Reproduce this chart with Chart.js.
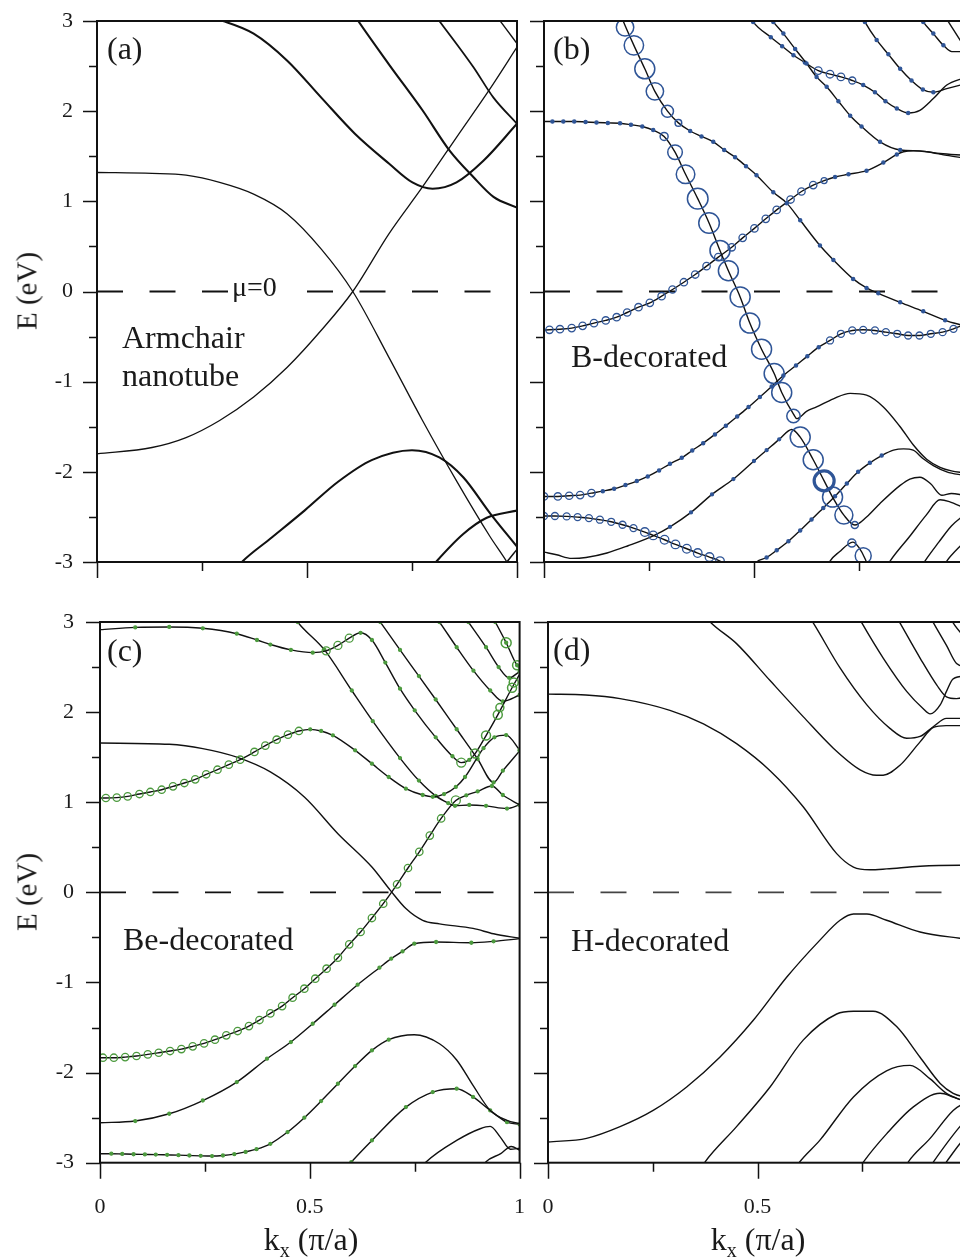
<!DOCTYPE html>
<html>
<head>
<meta charset="utf-8">
<script src="https://cdn.jsdelivr.net/npm/chart.js@4.4.0/dist/chart.umd.min.js"></script>
<style>
html, body { margin: 0; padding: 0; background: #fff; }
body { width: 960px; height: 1257px; position: relative; overflow: hidden;
       font-family: 'Liberation Serif', 'Times New Roman', serif; color: #1a1a1a; }
canvas { position: absolute; }
.t { position: absolute; line-height: 1; white-space: nowrap; }
.mu { background: #fff; padding: 0 4px; }
.rot { transform: translate(-50%, -50%) rotate(-90deg); }
.ctr { transform: translateX(-50%); }
sub { font-size: 20px; vertical-align: -7px; line-height: 0; }
</style>
</head>
<body>
<canvas id="pa" width="522" height="600" style="left:0;top:0"></canvas>
<canvas id="pb" width="460" height="600" style="left:522px;top:0"></canvas>
<canvas id="pc" width="530" height="657" style="left:0;top:600px"></canvas>
<canvas id="pd" width="450" height="657" style="left:530px;top:600px"></canvas>

<div class="t" style="left:107px;top:32px;font-size:32px">(a)</div>
<div class="t" style="left:553px;top:32px;font-size:32px">(b)</div>
<div class="t" style="left:107px;top:634px;font-size:32px">(c)</div>
<div class="t" style="left:553px;top:633px;font-size:32px">(d)</div>
<div class="t" style="left:122px;top:321px;font-size:32px">Armchair</div>
<div class="t" style="left:122px;top:359px;font-size:32px">nanotube</div>
<div class="t" style="left:571px;top:340px;font-size:32px">B-decorated</div>
<div class="t" style="left:123px;top:923px;font-size:32px">Be-decorated</div>
<div class="t" style="left:571px;top:924px;font-size:32px">H-decorated</div>
<div class="t mu" style="left:228px;top:273px;font-size:28px">μ=0</div>
<div class="t rot" style="left:27px;top:291px;font-size:29px">E (eV)</div>
<div class="t rot" style="left:27px;top:892px;font-size:29px">E (eV)</div>
<div class="t ctr" style="left:311px;top:1223px;font-size:32px">k<sub>x</sub> (π/a)</div>
<div class="t ctr" style="left:758px;top:1223px;font-size:32px">k<sub>x</sub> (π/a)</div>

<script>
// tick positions shared by all four panels
const xTickVals = [0, 0.25, 0.5, 0.75, 1];
const yTickVals = [-3, -2.5, -2, -1.5, -1, -0.5, 0, 0.5, 1, 1.5, 2, 2.5, 3];

// ---- (a) armchair nanotube, bands as [k, E]
const a1 = [[0,1.32],[0.131,1.31],[0.212,1.29],[0.292,1.21],[0.373,1.08],[0.453,0.86],[0.534,0.47],[0.609,0],[0.695,-0.73],[0.775,-1.43],[0.856,-2.10],[0.936,-2.72],[0.976,-3.0],[1.0,-3.2]];
const a2 = [[0,-1.80],[0.131,-1.73],[0.212,-1.62],[0.292,-1.43],[0.373,-1.17],[0.453,-0.84],[0.534,-0.43],[0.609,0],[0.695,0.64],[0.775,1.16],[0.856,1.71],[0.936,2.25],[1.0,2.71]];
const a3 = [[0.22,3.1],[0.30,3.0],[0.373,2.86],[0.453,2.56],[0.534,2.15],[0.614,1.75],[0.695,1.42],[0.751,1.21],[0.799,1.14],[0.856,1.21],[0.920,1.45],[1.0,1.86]];
const a4 = [[0.58,3.3],[0.622,3.0],[0.695,2.52],[0.775,2.01],[0.840,1.56],[0.896,1.27],[0.944,1.05],[1.0,0.93]];
const a5 = [[0.79,3.15],[0.815,3.0],[0.896,2.49],[0.944,2.15],[1.0,1.86]];
const a6 = [[0.94,3.12],[0.96,3.0],[1.0,2.75]];
const a7 = [[0.30,-3.25],[0.345,-3.0],[0.413,-2.74],[0.494,-2.43],[0.574,-2.11],[0.654,-1.87],[0.75,-1.76],[0.815,-1.84],[0.872,-2.06],[0.936,-2.46],[1.0,-2.83]];
const a8 = [[0.78,-3.15],[0.807,-3.0],[0.872,-2.69],[0.928,-2.51],[1.0,-2.43]];
const a9 = [[0.96,-3.1],[0.976,-3.0],[1.0,-2.86]];

// ---- (b) B-decorated; weights = marker radius of projected weight
const b1 = [[0.18,3.1],[0.193,2.95],[0.214,2.73],[0.240,2.47],[0.264,2.22],[0.294,2.00],[0.320,1.87],[0.348,1.78],[0.375,1.72],[0.403,1.66],[0.429,1.57],[0.455,1.49],[0.481,1.39],[0.506,1.29],[0.546,1.10],[0.578,0.98],[0.610,0.79],[0.657,0.51],[0.689,0.35],[0.736,0.14],[0.768,0.04],[0.796,-0.02],[0.848,-0.12],[0.903,-0.22],[0.955,-0.32],[1.0,-0.38]];
const b1w = [0,0,0,0,0,0,0,1.6,1.6,1.6,1.6,1.6,1.6,1.6,1.6,1.6,1.6,1.6,1.6,1.6,1.6,1.6,1.6,1.6,1.6,0];
const b2 = [[0,1.885],[0.02,1.885],[0.046,1.885],[0.072,1.885],[0.099,1.88],[0.125,1.874],[0.152,1.87],[0.181,1.866],[0.207,1.85],[0.234,1.83],[0.260,1.79],[0.286,1.72],[0.312,1.545],[0.337,1.30],[0.366,1.03],[0.393,0.76],[0.419,0.455],[0.439,0.23],[0.467,-0.06],[0.490,-0.35],[0.518,-0.64],[0.548,-0.91],[0.566,-1.12],[0.594,-1.36],[0.602,-1.41],[0.625,-1.33],[0.649,-1.28],[0.689,-1.19],[0.729,-1.13],[0.768,-1.15],[0.808,-1.28],[0.848,-1.50],[0.879,-1.70],[0.911,-1.86],[0.943,-1.95],[0.97,-1.99],[1.0,-2.01]];
const b2w = [0,1.6,1.6,1.6,1.6,1.6,1.6,1.6,1.6,1.6,1.6,0,0,0,0,0,0,0,0,0,0,0,0,0,0,0,0,0,0,0,0,0,0,0,0,0,0];
const b3 = [[0,-0.427],[0.013,-0.425],[0.038,-0.418],[0.066,-0.406],[0.092,-0.381],[0.119,-0.351],[0.147,-0.321],[0.173,-0.285],[0.198,-0.233],[0.225,-0.174],[0.252,-0.126],[0.280,-0.052],[0.306,0.022],[0.333,0.103],[0.360,0.188],[0.387,0.281],[0.415,0.381],[0.447,0.49],[0.473,0.595],[0.501,0.70],[0.528,0.806],[0.554,0.905],[0.587,1.02],[0.613,1.109],[0.641,1.18],[0.667,1.23],[0.693,1.27],[0.725,1.30],[0.768,1.34],[0.808,1.43],[0.84,1.52],[0.856,1.55],[0.88,1.56],[0.911,1.55],[0.959,1.51],[1.0,1.48]];
const b3w = [0,3.7,3.7,3.7,3.7,3.7,3.7,3.7,3.7,3.7,3.7,3.7,3.7,3.7,3.7,3.7,3.7,3.7,3.7,3.7,3.7,3.7,3.7,3.7,3.7,3,1.6,1.6,1.6,1.6,1.6,0,0,0,0,0];
const b4 = [[0,-2.273],[0.033,-2.273],[0.060,-2.265],[0.086,-2.258],[0.113,-2.236],[0.140,-2.214],[0.167,-2.188],[0.194,-2.147],[0.221,-2.103],[0.247,-2.051],[0.274,-1.984],[0.300,-1.911],[0.328,-1.845],[0.353,-1.763],[0.379,-1.682],[0.407,-1.585],[0.433,-1.489],[0.460,-1.386],[0.487,-1.282],[0.514,-1.171],[0.542,-1.053],[0.570,-0.931],[0.600,-0.820],[0.627,-0.717],[0.654,-0.617],[0.681,-0.543],[0.707,-0.469],[0.734,-0.432],[0.760,-0.425],[0.788,-0.432],[0.814,-0.451],[0.841,-0.469],[0.867,-0.488],[0.894,-0.488],[0.921,-0.469],[0.949,-0.451],[0.975,-0.414],[1.0,-0.37]];
const b4w = [3.7,3.7,3.7,3.7,3.7,1.6,1.6,1.6,1.6,1.6,1.6,1.6,1.6,1.6,1.6,1.6,1.6,1.6,1.6,1.6,1.6,1.6,1.6,1.6,1.6,3.5,3.5,3.5,3.5,3.5,3.5,3.5,3.5,3.5,3.5,3.5,3.5,0];
const b5 = [[0,-2.49],[0.026,-2.49],[0.054,-2.494],[0.080,-2.502],[0.107,-2.513],[0.133,-2.531],[0.160,-2.554],[0.187,-2.587],[0.213,-2.624],[0.240,-2.668],[0.260,-2.705],[0.287,-2.753],[0.313,-2.805],[0.340,-2.853],[0.366,-2.901],[0.394,-2.945],[0.419,-2.99],[0.44,-3.06]];
const b5w = [3.5,3.5,3.5,3.5,3.5,3.5,3.5,3.5,3.5,4.3,4.3,4.3,4.3,4.3,4.3,4.3,4.3,0];
const b6 = [[0.53,3.1],[0.546,2.99],[0.57,2.86],[0.598,2.69],[0.625,2.53],[0.649,2.38],[0.673,2.27],[0.701,2.11],[0.729,1.95],[0.756,1.83],[0.80,1.66],[0.848,1.57],[0.895,1.56],[0.943,1.53],[1.0,1.51]];
const b6w = [0,1.6,1.6,1.6,1.6,1.6,1.6,1.6,1.6,1.6,1.6,1.6,0,0,0];
const b7 = [[0.485,3.1],[0.498,2.99],[0.540,2.82],[0.567,2.72],[0.594,2.62],[0.621,2.54],[0.653,2.45],[0.681,2.41],[0.707,2.38],[0.734,2.34],[0.760,2.29],[0.788,2.21],[0.813,2.11],[0.840,2.03],[0.867,1.98],[0.895,2.01],[0.927,2.14],[0.959,2.29],[1.0,2.37]];
const b7w = [0,1.6,1.6,1.6,1.6,1.6,3.8,3.8,3.8,3.5,1.6,1.6,1.6,1.6,1.6,0,0,0,0];
const b8 = [[0.75,3.12],[0.764,2.99],[0.792,2.79],[0.820,2.63],[0.848,2.47],[0.875,2.34],[0.902,2.24],[0.927,2.21],[0.959,2.25],[1.0,2.30]];
const b8w = [0,1.6,1.6,1.6,1.6,1.6,1.6,1.6,0,0];
const b9 = [[0.89,3.1],[0.903,2.99],[0.927,2.86],[0.951,2.73],[0.971,2.66],[1.0,2.66]];
const b9w = [0,1.6,1.6,1.6,0,0];
const b10 = [[0.955,3.05],[0.963,2.99],[1.0,2.72]];
const bP = [[0,-2.89],[0.03,-2.92],[0.066,-2.96],[0.10,-2.95],[0.15,-2.90],[0.20,-2.82],[0.26,-2.71],[0.30,-2.61],[0.35,-2.45],[0.40,-2.25],[0.451,-2.08],[0.50,-1.88],[0.530,-1.76],[0.56,-1.64],[0.590,-1.53],[0.61,-1.615],[0.641,-1.866],[0.667,-2.10],[0.687,-2.28],[0.714,-2.48],[0.740,-2.59],[0.768,-2.50],[0.80,-2.35],[0.848,-2.15],[0.871,-2.08],[0.895,-2.06],[0.92,-2.13],[0.947,-2.26],[0.97,-2.24],[1.0,-2.26]];
const bPw = [0,0,0,0,0,0,0,1.5,1.5,1.5,1.5,1.5,1.5,1.5,0,0,0,0,0,0,0,0,0,0,0,0,0,0,0,0];
const bQ = [[0.49,-3.1],[0.506,-3.0],[0.530,-2.95],[0.554,-2.87],[0.582,-2.77],[0.610,-2.65],[0.637,-2.53],[0.665,-2.40],[0.693,-2.27],[0.721,-2.13],[0.748,-2.0],[0.776,-1.90],[0.804,-1.82],[0.832,-1.76],[0.856,-1.745],[0.879,-1.76],[0.903,-1.855],[0.927,-1.93],[0.959,-2.0],[1.0,-2.04]];
const bQw = [0,0,1.6,1.6,1.6,1.6,1.6,1.6,1.6,1.6,1.6,1.6,1.6,0,0,0,0,0,0,0];
const bR = [[0.67,-3.1],[0.681,-2.99],[0.705,-2.88],[0.725,-2.80],[0.735,-2.78],[0.75,-2.84],[0.765,-2.97],[0.775,-3.1]];
const bS1 = [[0.81,-3.1],[0.824,-2.99],[0.87,-2.72],[0.91,-2.48],[0.943,-2.31],[0.965,-2.33],[1.0,-2.40]];
const bS2 = [[0.895,-3.08],[0.907,-2.99],[0.94,-2.78],[0.97,-2.60],[1.0,-2.48]];
const bS3 = [[0.95,-3.06],[0.959,-2.99],[1.0,-2.78]];
// large open circles following the strongly boron-like state
const bPathK = [0.193,0.214,0.240,0.264,0.294,0.320,0.286,0.312,0.337,0.366,0.393,0.419,0.439,0.467,0.490,0.518,0.548,0.566,0.594,0.610,0.641,0.667,0.687,0.714,0.740,0.733,0.760];
const bPathE = [2.93,2.73,2.47,2.22,2.00,1.87,1.72,1.545,1.30,1.03,0.76,0.455,0.23,-0.06,-0.35,-0.64,-0.91,-1.12,-1.38,-1.615,-1.866,-2.10,-2.28,-2.48,-2.59,-2.79,-2.93];
const bPathW = [8.7,9.7,10,8.7,6,3.3,4,7.3,9.3,10.3,10.3,10,10,10,10,10,10,10,6.7,10,10,10,10,9,3.5,4,8];

// ---- (c) Be-decorated
const c1 = [[0,2.915],[0.084,2.94],[0.165,2.945],[0.245,2.93],[0.326,2.87],[0.374,2.80],[0.406,2.75],[0.455,2.69],[0.507,2.66],[0.539,2.68],[0.567,2.74],[0.594,2.82],[0.621,2.88],[0.648,2.80],[0.68,2.55],[0.715,2.26],[0.75,2.02],[0.80,1.72],[0.84,1.51],[0.861,1.44],[0.88,1.47],[0.894,1.54],[0.92,1.74],[0.948,1.97],[0.982,2.27],[1.0,2.42]];
const c1w = [0,1.5,1.5,1.5,1.5,1.5,1.5,1.5,1.5,4,4,4,1.5,1.5,1.5,1.5,1.5,1.5,1.5,4.5,1.5,0,0,0,0,0];
const c2 = [[0,1.047],[0.014,1.047],[0.040,1.051],[0.066,1.065],[0.094,1.091],[0.120,1.114],[0.147,1.139],[0.174,1.176],[0.201,1.213],[0.227,1.254],[0.253,1.310],[0.280,1.361],[0.307,1.417],[0.334,1.472],[0.368,1.558],[0.394,1.628],[0.421,1.694],[0.448,1.750],[0.474,1.791],[0.501,1.809],[0.527,1.791],[0.555,1.742],[0.608,1.576],[0.648,1.428],[0.688,1.28],[0.729,1.151],[0.769,1.08],[0.793,1.06],[0.82,1.09],[0.848,1.17],[0.87,1.28],[0.914,1.60],[0.94,1.72],[0.968,1.745],[1.0,1.58]];
const c2w = [0,3.7,3.7,3.7,3.7,3.7,3.7,3.7,3.7,3.7,3.7,3.7,3.7,3.7,3.7,3.7,3.7,3.7,3.7,1.5,1.5,1.5,1.5,1.5,1.5,1.5,1.5,1.5,1.5,1.5,1.5,1.5,1.5,1.5,1.5];
const c3 = [[0,-1.835],[0.007,-1.835],[0.033,-1.835],[0.060,-1.828],[0.087,-1.816],[0.114,-1.798],[0.140,-1.780],[0.167,-1.761],[0.194,-1.739],[0.221,-1.709],[0.248,-1.676],[0.274,-1.635],[0.301,-1.587],[0.328,-1.539],[0.355,-1.484],[0.380,-1.417],[0.406,-1.343],[0.434,-1.262],[0.459,-1.169],[0.487,-1.069],[0.513,-0.958],[0.540,-0.847],[0.567,-0.725],[0.594,-0.577],[0.621,-0.44],[0.648,-0.285],[0.675,-0.126],[0.708,0.089],[0.734,0.27],[0.761,0.45],[0.786,0.63],[0.813,0.82],[0.848,1.02],[0.873,1.077],[0.90,1.12],[0.934,1.18],[0.96,1.08],[1.0,0.97]];
const c3w = [0,3.7,3.7,3.7,3.7,3.7,3.7,3.7,3.7,3.7,3.7,3.7,3.7,3.7,3.7,3.7,3.7,3.7,3.7,3.7,3.7,3.7,3.7,3.7,3.7,3.7,3.7,3.7,3.7,3.7,3.7,3.7,4.5,1.5,1.5,1.5,1.5,0];
const c4 = [[0,1.657],[0.165,1.643],[0.245,1.595],[0.326,1.50],[0.406,1.336],[0.487,1.058],[0.567,0.651],[0.648,0.281],[0.692,0.022],[0.729,-0.18],[0.769,-0.31],[0.809,-0.35],[0.889,-0.40],[0.938,-0.46],[1.0,-0.51]];
const c5 = [[0,-2.557],[0.084,-2.538],[0.165,-2.457],[0.245,-2.31],[0.326,-2.105],[0.398,-1.846],[0.455,-1.661],[0.507,-1.458],[0.559,-1.247],[0.614,-1.025],[0.666,-0.836],[0.694,-0.736],[0.721,-0.655],[0.749,-0.570],[0.801,-0.551],[0.885,-0.559],[0.938,-0.544],[1.0,-0.514]];
const c5w = [0,1.5,1.5,1.5,1.5,1.5,1.5,1.5,1.5,1.5,1.5,1.5,1.5,1.5,1.5,1.5,1.5,0];
const c6 = [[0,-2.90],[0.027,-2.90],[0.053,-2.903],[0.08,-2.906],[0.107,-2.908],[0.133,-2.91],[0.16,-2.913],[0.187,-2.916],[0.213,-2.92],[0.24,-2.924],[0.267,-2.926],[0.293,-2.92],[0.32,-2.905],[0.347,-2.88],[0.373,-2.85],[0.406,-2.79],[0.447,-2.66],[0.487,-2.50],[0.527,-2.316],[0.567,-2.124],[0.608,-1.928],[0.648,-1.754],[0.688,-1.635],[0.749,-1.58],[0.809,-1.68],[0.85,-1.86],[0.889,-2.142],[0.930,-2.42],[0.970,-2.53],[1.0,-2.567]];
const c6w = [0,1.5,1.5,1.5,1.5,1.5,1.5,1.5,1.5,1.5,1.5,1.5,1.5,1.5,1.5,1.5,1.5,1.5,1.5,1.5,1.5,1.5,1.5,0,0,0,0,0,0,0];
const c7 = [[0.585,-3.07],[0.599,-2.993],[0.648,-2.753],[0.729,-2.383],[0.793,-2.216],[0.85,-2.179],[0.889,-2.27],[0.93,-2.42],[0.97,-2.55],[1.0,-2.575]];
const c8 = [[0.765,-3.06],[0.777,-2.993],[0.85,-2.753],[0.906,-2.623],[0.93,-2.597],[0.954,-2.716],[0.978,-2.85],[1.0,-2.84]];
const c9 = [[0.91,-3.06],[0.92,-2.99],[0.955,-2.9],[0.98,-2.82],[1.0,-2.86]];
const cT1 = [[0.45,3.15],[0.471,3.0],[0.535,2.69],[0.60,2.24],[0.65,1.90],[0.715,1.49],[0.76,1.24],[0.80,1.07],[0.83,0.99],[0.846,0.96],[0.88,0.97],[0.92,0.96],[0.97,0.93],[1.0,0.97]];
const cT2 = [[0.65,3.12],[0.668,3.0],[0.715,2.69],[0.76,2.40],[0.80,2.14],[0.85,1.81],[0.90,1.48],[0.938,1.22],[0.96,1.35],[1.0,1.57]];
const cT3 = [[0.79,3.12],[0.809,3.0],[0.85,2.72],[0.89,2.46],[0.93,2.24],[0.96,2.12],[1.0,2.19]];
const cT4 = [[0.86,3.12],[0.878,3.0],[0.92,2.72],[0.95,2.50],[0.975,2.38],[1.0,2.45]];
const cT5 = [[0.93,3.1],[0.942,3.0],[0.968,2.77],[0.994,2.52],[1.0,2.50]];
const cTw = 1.5;
const cPathK = [0.894,0.92,0.948,0.953,0.982,0.986,0.994,0.968];
const cPathE = [1.54,1.74,1.97,2.05,2.27,2.33,2.52,2.77];
const cPathW = [4.5,4.5,4.5,4,4.5,4.5,4.5,5];

// ---- (d) H-decorated
const d1 = [[0,2.20],[0.09,2.19],[0.172,2.15],[0.291,2.02],[0.371,1.87],[0.450,1.65],[0.530,1.35],[0.609,0.95],[0.689,0.43],[0.729,0.28],[0.768,0.25],[0.808,0.26],[0.888,0.29],[0.983,0.30],[1.0,0.30]];
const d2 = [[0.36,3.15],[0.387,3.0],[0.450,2.76],[0.530,2.35],[0.609,1.95],[0.681,1.60],[0.745,1.36],[0.784,1.30],[0.800,1.30],[0.840,1.41],[0.888,1.67],[0.92,1.83],[0.95,1.85],[1.0,1.85]];
const d3 = [[0.61,3.15],[0.633,2.99],[0.697,2.49],[0.761,2.08],[0.816,1.82],[0.856,1.71],[0.888,1.73],[0.920,1.84],[0.951,1.93],[1.0,1.93]];
const d4 = [[0.73,3.15],[0.749,2.99],[0.800,2.60],[0.856,2.23],[0.895,2.04],[0.912,1.98],[0.936,2.08],[0.951,2.23],[0.967,2.37],[1.0,2.40]];
const d5 = [[0.82,3.15],[0.840,2.99],[0.888,2.60],[0.928,2.30],[0.951,2.17],[0.975,2.15],[1.0,2.18]];
const d6 = [[0.905,3.12],[0.920,2.99],[0.951,2.74],[0.975,2.54],[1.0,2.50]];
const d7 = [[0.955,3.1],[0.967,2.99],[1.0,2.8]];
const d8 = [[0,-2.77],[0.092,-2.73],[0.172,-2.60],[0.251,-2.42],[0.331,-2.16],[0.41,-1.83],[0.49,-1.42],[0.57,-0.94],[0.649,-0.53],[0.697,-0.31],[0.729,-0.24],[0.761,-0.24],[0.808,-0.31],[0.888,-0.44],[0.983,-0.51],[1.0,-0.52]];
const d9 = [[0.36,-3.1],[0.375,-2.99],[0.45,-2.60],[0.53,-2.16],[0.609,-1.64],[0.689,-1.35],[0.729,-1.32],[0.776,-1.32],[0.832,-1.49],[0.888,-1.83],[0.936,-2.12],[0.967,-2.23],[1.0,-2.28]];
const d10 = [[0.585,-3.1],[0.601,-2.99],[0.649,-2.75],[0.729,-2.27],[0.808,-1.98],[0.864,-1.92],[0.912,-2.07],[0.951,-2.23],[1.0,-2.33]];
const d11 = [[0.74,-3.08],[0.753,-2.99],[0.808,-2.68],[0.872,-2.38],[0.936,-2.23],[0.967,-2.27],[1.0,-2.33]];
const d12 = [[0.85,-3.07],[0.86,-2.99],[0.912,-2.73],[0.967,-2.42],[1.0,-2.32]];
const d13 = [[0.91,-3.06],[0.92,-2.99],[0.983,-2.60],[1.0,-2.52]];
const d14 = [[0.94,-3.06],[0.951,-2.99],[0.983,-2.79],[1.0,-2.7]];

const INK = '#111';
const BLUE = '#2f5597';
const GREEN = '#4c9a3e';
const FONT = "'Liberation Serif', 'Times New Roman', serif";

function band(pts, w, color, width) {
  const r = pts.map((p, i) => Array.isArray(w) ? w[i] : (w || 0));
  return {
    data: pts.map(p => ({ x: p[0], y: p[1] })),
    borderColor: INK, borderWidth: width || 1.4,
    cubicInterpolationMode: 'monotone', fill: false,
    pointRadius: r, pointHoverRadius: r,
    pointBorderColor: color || INK, pointBorderWidth: 1.3,
    pointBackgroundColor: r.map(v => v < 2.2 ? color : 'rgba(0,0,0,0)'),
    order: 1
  };
}

// open circles; one circle of the path in (b) is drawn with a heavier rim
function circles(ks, es, ws, color, heavy) {
  return {
    data: ks.map((k, i) => ({ x: k, y: es[i] })),
    showLine: false,
    pointRadius: ws, pointHoverRadius: ws,
    pointBorderColor: color,
    pointBorderWidth: ks.map((k, i) => i === heavy ? 3.2 : 1.5),
    pointBackgroundColor: 'rgba(0,0,0,0)',
    order: 0
  };
}

function zeroLine(color) {
  return {
    data: [{ x: 0, y: 0 }, { x: 1, y: 0 }],
    borderColor: color, borderWidth: 1.8, borderDash: [26, 26.5],
    pointRadius: 0, order: 2
  };
}

const frame = {
  id: 'frame',
  afterDatasetsDraw(chart) {
    const { ctx, chartArea: a, scales } = chart;
    ctx.save();
    ctx.strokeStyle = INK;
    ctx.lineWidth = 2;
    ctx.strokeRect(a.left, a.top, a.right - a.left, a.bottom - a.top);
    ctx.lineWidth = 1.5;
    ctx.beginPath();
    yTickVals.forEach(v => {
      const py = Math.round(scales.y.getPixelForValue(v)) + 0.5;
      const len = Number.isInteger(v) ? 14 : 8;
      ctx.moveTo(a.left - len, py); ctx.lineTo(a.left, py);
    });
    xTickVals.forEach(v => {
      const px = Math.round(scales.x.getPixelForValue(v)) + 0.5;
      const len = Number.isInteger(v * 2) ? 16 : 9;
      ctx.moveTo(px, a.bottom); ctx.lineTo(px, a.bottom + len);
    });
    ctx.stroke();
    ctx.restore();
  }
};

// fixed axis boxes, no label overflow padding
function fixBox(s, w, h) {
  if (w !== null) s.width = w;
  if (h !== null) s.height = h;
  s.paddingTop = 0; s.paddingBottom = 0; s.paddingLeft = 0; s.paddingRight = 0;
}

function panel(id, datasets, o) {
  new Chart(document.getElementById(id), {
    type: 'line',
    data: { datasets },
    options: {
      responsive: false, animation: false, events: [],
      layout: { autoPadding: false, padding: { left: 0, top: o.top, right: o.right, bottom: 0 } },
      plugins: { legend: { display: false }, tooltip: { enabled: false } },
      scales: {
        x: {
          type: 'linear', min: 0, max: 1,
          grid: { display: false }, border: { display: false },
          ticks: { display: o.xLabels, stepSize: 0.5, padding: 23, maxRotation: 0, autoSkip: false,
                   color: '#1a1a1a', font: { family: FONT, size: 22 }, callback: v => String(v) },
          afterFit: s => fixBox(s, null, o.xh)
        },
        y: {
          type: 'linear', min: -3, max: 3,
          grid: { display: false }, border: { display: false },
          ticks: { display: o.yLabels, stepSize: 1, padding: o.yPad, autoSkip: false,
                   color: '#1a1a1a', font: { family: FONT, size: 22 }, callback: v => String(v) },
          afterFit: s => fixBox(s, o.yw, null)
        }
      }
    },
    plugins: [frame]
  });
}

panel('pa', [
  band(a1, 0, INK, 1.3), band(a2, 0, INK, 1.3), band(a3, 0, INK, 2.1), band(a4, 0, INK, 2.1),
  band(a5, 0, INK, 1.8), band(a6, 0, INK, 1.3), band(a7, 0, INK, 2.1), band(a8, 0, INK, 2.1),
  band(a9, 0, INK, 1.5), zeroLine(INK)
], { top: 21, right: 5, xh: 38, yw: 97, yPad: 16, xLabels: false, yLabels: true });

panel('pb', [
  circles(bPathK, bPathE, bPathW, BLUE, 21),
  band(b1, b1w, BLUE), band(b2, b2w, BLUE), band(b3, b3w, BLUE), band(b4, b4w, BLUE),
  band(b5, b5w, BLUE), band(b6, b6w, BLUE), band(b7, b7w, BLUE), band(b8, b8w, BLUE),
  band(b9, b9w, BLUE), band(b10, 0, BLUE), band(bP, bPw, BLUE), band(bQ, bQw, BLUE),
  band(bR, 0, BLUE), band(bS1, 0, BLUE), band(bS2, 0, BLUE), band(bS3, 0, BLUE),
  zeroLine(INK)
], { top: 21, right: 18, xh: 38, yw: 22, yPad: 16, xLabels: false, yLabels: false });

panel('pc', [
  circles(cPathK, cPathE, cPathW, GREEN, -1),
  band(c1, c1w, GREEN), band(c2, c2w, GREEN), band(c3, c3w, GREEN), band(c4, 0, GREEN),
  band(c5, c5w, GREEN), band(c6, c6w, GREEN), band(c7, cTw, GREEN), band(c8, 0, GREEN),
  band(c9, 0, GREEN), band(cT1, cTw, GREEN), band(cT2, cTw, GREEN), band(cT3, cTw, GREEN),
  band(cT4, cTw, GREEN), band(cT5, cTw, GREEN),
  zeroLine(INK)
], { top: 22, right: 10.4, xh: 94.3, yw: 100, yPad: 18, xLabels: true, yLabels: true });

panel('pd', [
  band(d1), band(d2), band(d3), band(d4), band(d5), band(d6), band(d7),
  band(d8), band(d9), band(d10), band(d11), band(d12), band(d13), band(d14),
  zeroLine('#444')
], { top: 22, right: 13, xh: 94.3, yw: 18, yPad: 16, xLabels: true, yLabels: false });
</script>
</body>
</html>
